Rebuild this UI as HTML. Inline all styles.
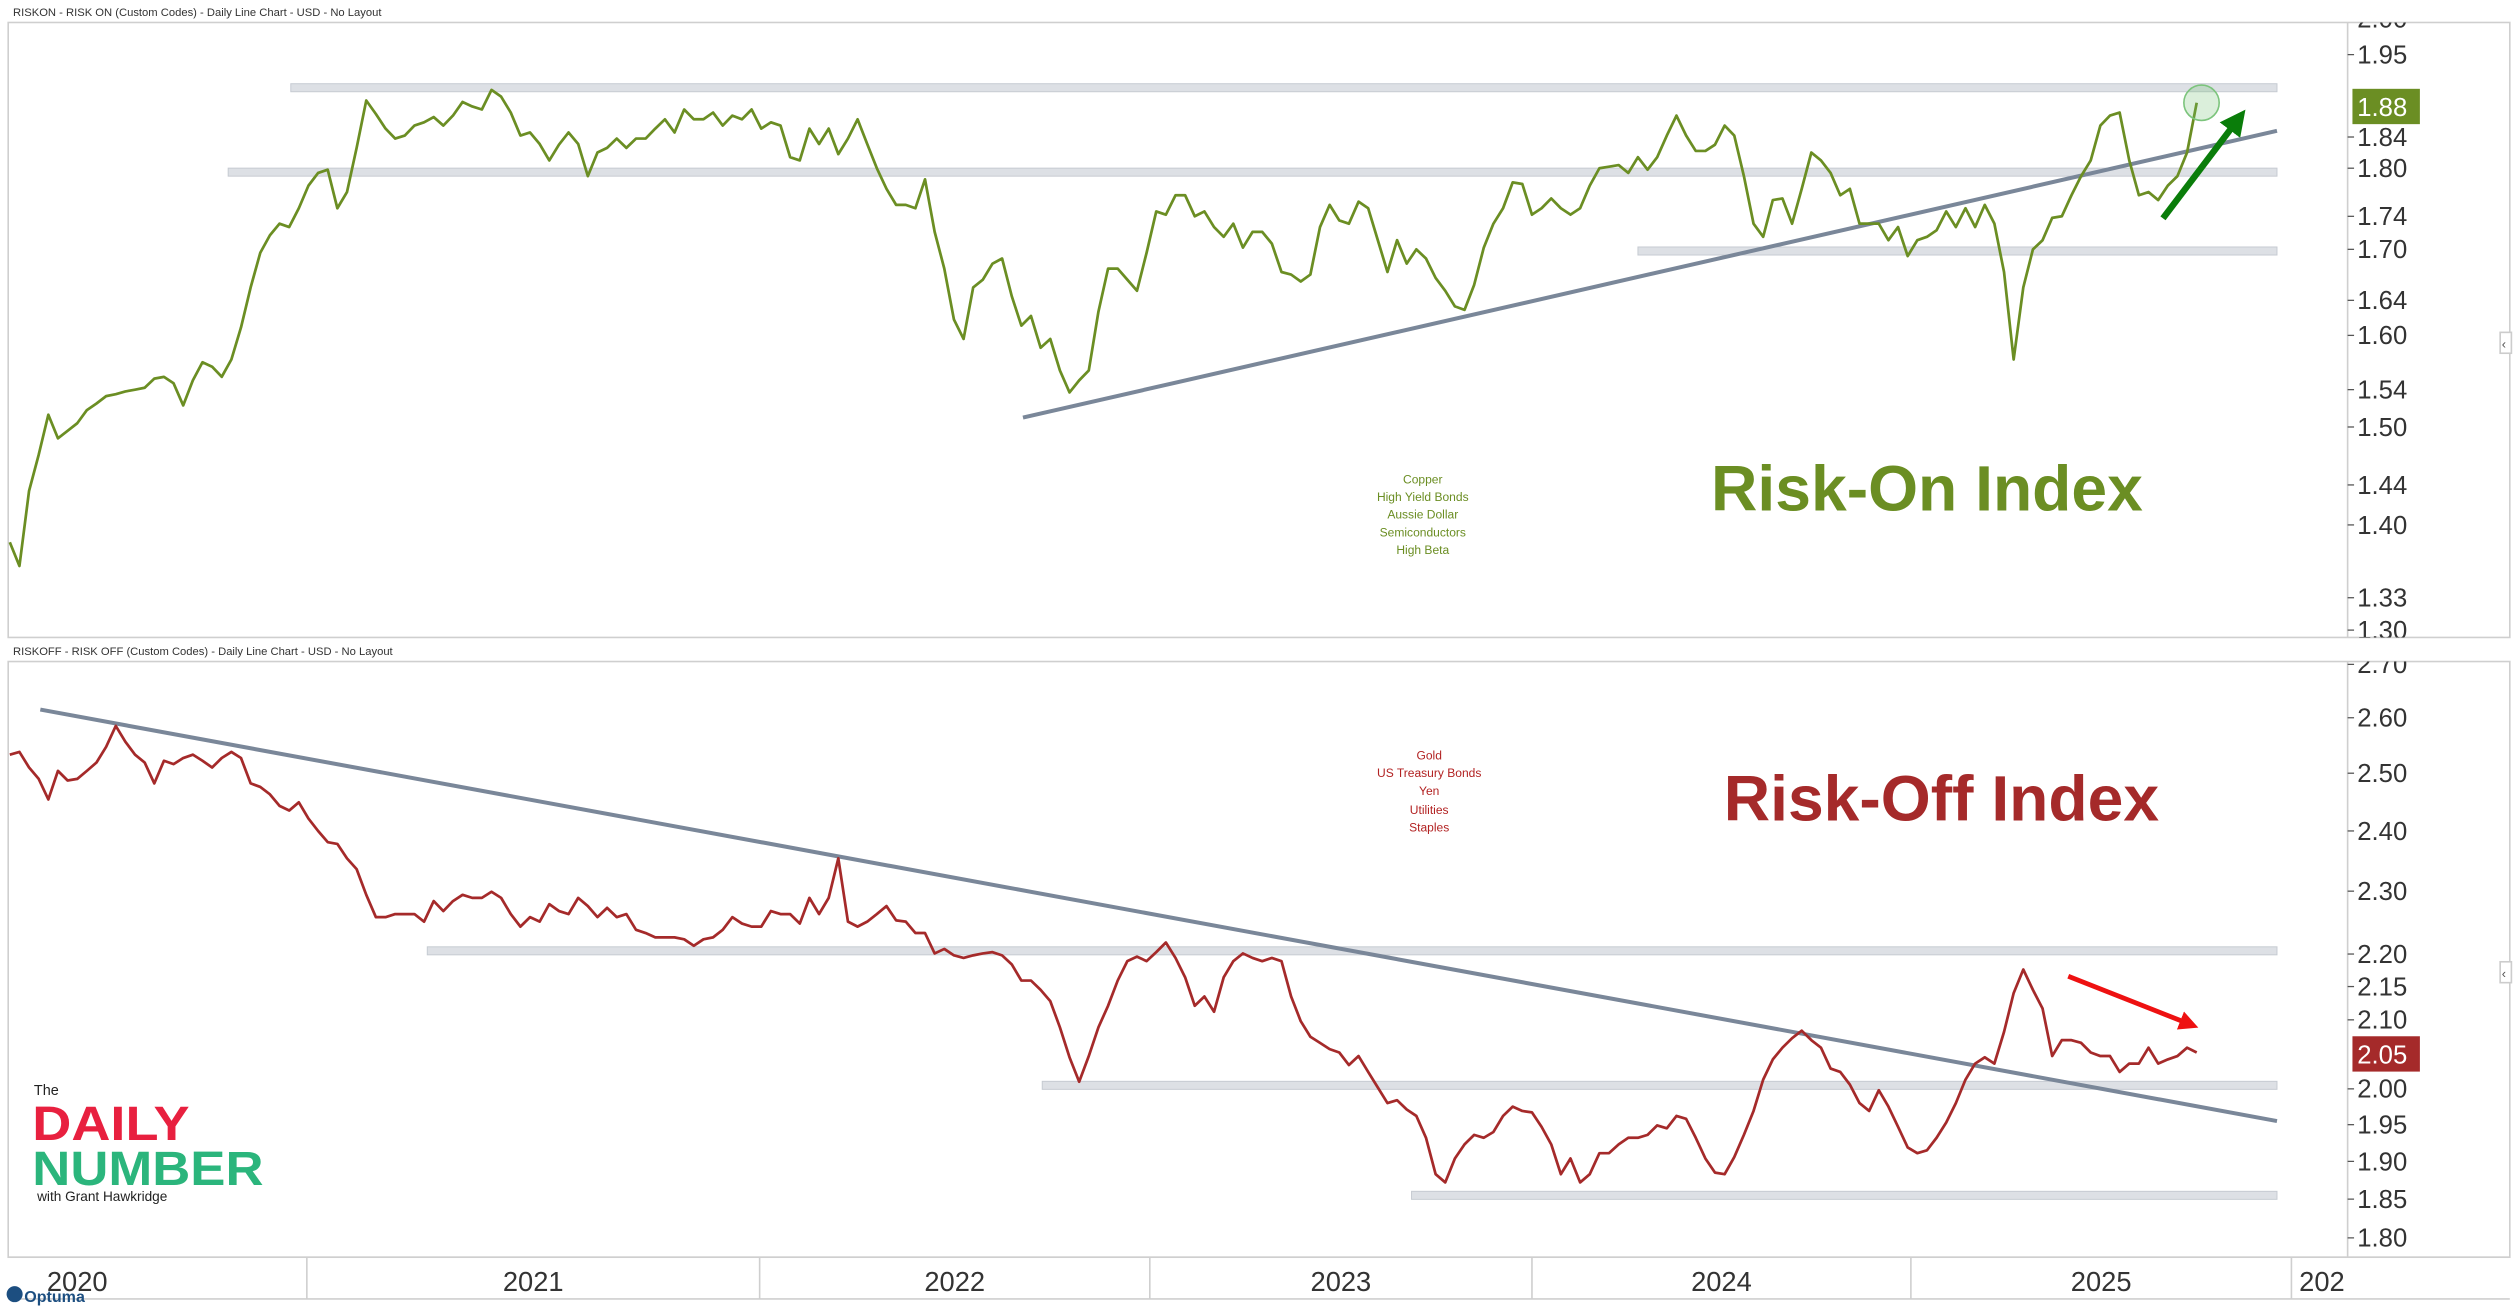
<!DOCTYPE html>
<html><head><meta charset="utf-8">
<style>
html,body{margin:0;padding:0;background:#fff;}
svg{display:block;}
text{font-family:"Liberation Sans",sans-serif;}
</style></head>
<body>
<svg id="chart" width="2518" height="1307" viewBox="0 0 1568 814" xmlns="http://www.w3.org/2000/svg">
  <rect x="0" y="0" width="1568" height="814" fill="#fff"/>
  <defs>
    <clipPath id="clipTop"><rect x="5" y="14" width="1558" height="383"/></clipPath>
    <clipPath id="clipBot"><rect x="5" y="412" width="1558" height="371"/></clipPath>
    <clipPath id="clipAx"><rect x="5" y="783" width="1457" height="26"/></clipPath>
    <marker id="ahG" markerWidth="4" markerHeight="4" refX="2.2" refY="2" orient="auto" markerUnits="strokeWidth"><path d="M0,0 L4,2 L0,4 z" fill="#0a7d0a"/></marker>
    <marker id="ahR" markerWidth="4" markerHeight="4" refX="2.2" refY="2" orient="auto" markerUnits="strokeWidth"><path d="M0,0 L4,2 L0,4 z" fill="#ee1111"/></marker>
  </defs>

  <text x="8" y="10" font-size="7" fill="#333">RISKON - RISK ON (Custom Codes) - Daily Line Chart - USD - No Layout</text>
  <rect x="5" y="14" width="1558" height="383" fill="none" stroke="#cfcfcf" stroke-width="1"/>
  <line x1="1462" y1="14" x2="1462" y2="397" stroke="#cfcfcf" stroke-width="1"/>
  <g id="topAxis" clip-path="url(#clipTop)"></g>
  <g id="topPlot" clip-path="url(#clipTop)"></g>

  <text x="8" y="408" font-size="7" fill="#333">RISKOFF - RISK OFF (Custom Codes) - Daily Line Chart - USD - No Layout</text>
  <rect x="5" y="412" width="1558" height="371" fill="none" stroke="#cfcfcf" stroke-width="1"/>
  <line x1="1462" y1="412" x2="1462" y2="783" stroke="#cfcfcf" stroke-width="1"/>
  <g id="botAxis" clip-path="url(#clipBot)"></g>
  <g id="botPlot" clip-path="url(#clipBot)"></g>

  <line x1="5" y1="783" x2="1563" y2="783" stroke="#cfcfcf"/>
  <line x1="5" y1="809" x2="1563" y2="809" stroke="#cfcfcf"/>
  <g id="xAxis" clip-path="url(#clipAx)"></g>

  <text x="1200" y="318" font-size="40" font-weight="bold" fill="#6b8e23" text-anchor="middle">Risk-On Index</text>
  <g font-size="7.5" fill="#6b8e23" text-anchor="middle">
    <text x="886" y="301">Copper</text>
    <text x="886" y="312">High Yield Bonds</text>
    <text x="886" y="323">Aussie Dollar</text>
    <text x="886" y="334">Semiconductors</text>
    <text x="886" y="345">High Beta</text>
  </g>
  <text x="1209" y="511" font-size="40" font-weight="bold" fill="#a52a2a" text-anchor="middle">Risk-Off Index</text>
  <g font-size="7.5" fill="#b22222" text-anchor="middle">
    <text x="890" y="473">Gold</text>
    <text x="890" y="484">US Treasury Bonds</text>
    <text x="890" y="495">Yen</text>
    <text x="890" y="507">Utilities</text>
    <text x="890" y="518">Staples</text>
  </g>

  <g>
    <text x="21" y="682" font-size="9" fill="#222">The</text>
    <text x="20" y="710" font-size="30" font-weight="bold" fill="#e8203f" textLength="98" lengthAdjust="spacingAndGlyphs">DAILY</text>
    <text x="20" y="738" font-size="30" font-weight="bold" fill="#2bb57c" textLength="144" lengthAdjust="spacingAndGlyphs">NUMBER</text>
    <text x="23" y="748" font-size="8.5" fill="#222">with Grant Hawkridge</text>
  </g>
  <g>
    <circle cx="9" cy="806" r="5" fill="#1c4e80"/>
    <text x="15" y="811" font-size="10" font-weight="bold" fill="#1c4e80">Optuma</text>
  </g>
  <g><rect x="1557" y="207" width="7" height="13" fill="#fff" stroke="#ccc"/><text x="1558" y="217" font-size="8" fill="#555">‹</text></g>
  <g><rect x="1557" y="599" width="7" height="13" fill="#fff" stroke="#ccc"/><text x="1558" y="609" font-size="8" fill="#555">‹</text></g>
</svg>
<script>
const onTicks = [2.00, 1.95, 1.84, 1.80, 1.74, 1.70, 1.64, 1.60, 1.54, 1.50, 1.44, 1.40, 1.33, 1.30];
const offTicks = [2.70, 2.60, 2.50, 2.40, 2.30, 2.20, 2.15, 2.10, 2.00, 1.95, 1.90, 1.85, 1.80];
const yearLabels = ["2020", "2021", "2022", "2023", "2024", "2025", "202"];
const riskOn = [1.383,1.360,1.434,1.471,1.513,1.488,1.496,1.504,1.518,1.525,1.533,1.535,1.538,1.540,1.542,1.552,1.554,1.547,1.523,1.550,
1.570,1.565,1.554,1.573,1.609,1.655,1.696,1.717,1.731,1.727,1.750,1.778,1.794,1.798,1.750,1.770,1.826,1.888,1.870,1.851,
1.838,1.842,1.855,1.859,1.866,1.855,1.868,1.886,1.880,1.876,1.902,1.893,1.872,1.842,1.846,1.831,1.810,1.830,1.846,1.831,
1.790,1.820,1.826,1.838,1.826,1.838,1.838,1.851,1.863,1.846,1.876,1.863,1.863,1.872,1.855,1.868,1.863,1.876,1.851,1.859,
1.855,1.814,1.810,1.851,1.831,1.851,1.818,1.838,1.863,1.831,1.800,1.774,1.754,1.754,1.750,1.786,1.721,1.677,1.618,1.596,
1.655,1.664,1.683,1.689,1.645,1.611,1.622,1.586,1.596,1.561,1.537,1.550,1.561,1.627,1.677,1.677,1.664,1.651,1.696,1.746,
1.742,1.766,1.766,1.740,1.746,1.727,1.715,1.731,1.702,1.721,1.721,1.707,1.673,1.670,1.662,1.670,1.727,1.754,1.735,1.731,
1.758,1.750,1.711,1.673,1.711,1.683,1.700,1.689,1.666,1.651,1.633,1.629,1.658,1.702,1.731,1.750,1.782,1.780,1.742,1.750,
1.762,1.750,1.742,1.750,1.778,1.800,1.802,1.804,1.794,1.814,1.798,1.814,1.842,1.868,1.842,1.822,1.822,1.830,1.855,1.842,
1.790,1.731,1.715,1.760,1.762,1.731,1.774,1.820,1.810,1.794,1.766,1.774,1.731,1.731,1.731,1.711,1.727,1.692,1.711,1.715,
1.723,1.746,1.727,1.750,1.727,1.754,1.731,1.673,1.573,1.655,1.700,1.711,1.738,1.740,1.766,1.790,1.810,1.855,1.868,1.872,
1.810,1.766,1.770,1.760,1.778,1.790,1.820,1.885];
const riskOff = [2.533,2.538,2.510,2.490,2.454,2.504,2.487,2.490,2.504,2.519,2.547,2.585,2.556,2.533,2.519,2.482,2.522,2.516,2.527,2.533,
2.522,2.510,2.527,2.538,2.527,2.482,2.476,2.463,2.443,2.435,2.449,2.421,2.400,2.381,2.378,2.354,2.336,2.294,2.258,2.258,
2.263,2.263,2.263,2.251,2.284,2.268,2.284,2.294,2.289,2.289,2.299,2.289,2.263,2.243,2.258,2.251,2.279,2.268,2.263,2.289,
2.276,2.258,2.273,2.258,2.263,2.238,2.233,2.226,2.226,2.226,2.223,2.213,2.223,2.226,2.238,2.258,2.248,2.243,2.243,2.268,
2.263,2.263,2.248,2.289,2.263,2.289,2.354,2.251,2.243,2.251,2.263,2.276,2.253,2.251,2.233,2.233,2.201,2.208,2.198,2.194,
2.198,2.201,2.203,2.198,2.184,2.159,2.159,2.145,2.128,2.089,2.045,2.010,2.047,2.089,2.121,2.159,2.189,2.196,2.189,2.203,
2.218,2.194,2.164,2.121,2.135,2.112,2.164,2.189,2.201,2.194,2.189,2.194,2.189,2.135,2.098,2.075,2.066,2.057,2.052,2.034,
2.047,2.024,2.002,1.980,1.984,1.971,1.962,1.932,1.883,1.872,1.904,1.923,1.936,1.932,1.940,1.962,1.975,1.969,1.967,1.947,
1.923,1.883,1.904,1.872,1.883,1.911,1.911,1.923,1.932,1.932,1.936,1.949,1.945,1.962,1.958,1.932,1.904,1.885,1.883,1.906,
1.936,1.969,2.013,2.042,2.059,2.073,2.084,2.070,2.059,2.029,2.024,2.006,1.980,1.969,1.998,1.975,1.947,1.919,1.911,1.915,
1.932,1.953,1.980,2.013,2.036,2.045,2.036,2.082,2.140,2.176,2.145,2.117,2.047,2.070,2.070,2.066,2.052,2.047,2.047,2.024,
2.036,2.036,2.059,2.036,2.042,2.047,2.059,2.052];
const onLast = 1.88;
const offLast = 2.05;
const onZones = [1.905, 1.795, 1.698];
const offZones = [2.205, 2.005, 1.855];
const onTrend = [1.51, 1.848];
const offTrend = [2.615, 1.955];

const NS = "http://www.w3.org/2000/svg";
const X0 = 6, X1 = 1368;
function xIdx(i, n) { return X0 + (X1 - X0) * i / (n - 1); }
function yOn(v) { return 34 + (Math.log(1.95) - Math.log(v)) * 884; }
function yOff(v) { return 447 + (Math.log(2.6) - Math.log(v)) * 881; }
function mk(tag, attrs, parent) {
  const e = document.createElementNS(NS, tag);
  for (const k in attrs) e.setAttribute(k, attrs[k]);
  parent.appendChild(e);
  return e;
}
function drawAxis(g, ticks, yf) {
  ticks.forEach(t => {
    const y = yf(t);
    const tk = mk("line", {x1: 1462, x2: 1466, y1: y, y2: y, stroke: "#555", "stroke-width": 0.8}, g);
    
    
    const tx = mk("text", {x: 1468, y: y + 5.5, "font-size": 16, fill: "#333"}, g);
    tx.textContent = t.toFixed(2);
    
    
  });
}
function drawZones(g, levels, yf, starts) {
  levels.forEach((v, i) => {
    const y = yf(v);
    const r = mk("rect", {x: starts[i], y: y - 2.5, width: 1418 - starts[i], height: 5, fill: "#dde0e5", stroke: "#c5cad1", "stroke-width": 0.6}, g);
    
    
  });
}
function drawSeries(g, vals, yf, color, name) {
  let d = "";
  vals.forEach((v, i) => { d += (i ? "L" : "M") + xIdx(i, vals.length).toFixed(1) + "," + yf(v).toFixed(1); });
  const p = mk("path", {d: d, fill: "none", stroke: color, "stroke-width": 1.7, "stroke-linejoin": "round"}, g);
  
  
}
function drawLabel(g, v, yf, color, name) {
  const y = yf(v);
  const r = mk("rect", {x: 1465, y: y - 11, width: 42, height: 22, fill: color}, g);
  
  
  const t = mk("text", {x: 1468, y: y + 6, "font-size": 16, fill: "#fff"}, g);
  t.textContent = v.toFixed(2);
  
  
}

const topAxis = document.getElementById("topAxis");
const topPlot = document.getElementById("topPlot");
const botAxis = document.getElementById("botAxis");
const botPlot = document.getElementById("botPlot");

drawAxis(topAxis, onTicks, yOn);
drawAxis(botAxis, offTicks, yOff);
drawZones(topPlot, onZones, yOn, [181, 142, 1020]);
drawZones(botPlot, offZones, yOff, [266, 649, 879]);

const tl1 = mk("line", {x1: 637, y1: yOn(onTrend[0]), x2: 1418, y2: yOn(onTrend[1]), stroke: "#7a8799", "stroke-width": 2.5}, topPlot);


const tl2 = mk("line", {x1: 25, y1: yOff(offTrend[0]), x2: 1418, y2: yOff(offTrend[1]), stroke: "#7a8799", "stroke-width": 2.5}, botPlot);



drawSeries(topPlot, riskOn, yOn, "#6b8e23", "risk-on-line");
drawSeries(botPlot, riskOff, yOff, "#a52a2a", "risk-off-line");

const circ = mk("ellipse", {cx: 1371, cy: 64, rx: 11, ry: 11, fill: "rgba(110,190,110,0.25)", stroke: "#7cc47c", "stroke-width": 1}, topPlot);


const ga = mk("line", {x1: 1347, y1: 136, x2: 1394, y2: 74, stroke: "#0a7d0a", "stroke-width": 4, "marker-end": "url(#ahG)"}, topPlot);


const ra = mk("line", {x1: 1288, y1: 608, x2: 1364, y2: 638, stroke: "#ee1111", "stroke-width": 3, "marker-end": "url(#ahR)"}, botPlot);



drawLabel(topAxis, onLast, yOn, "#6b8e23", "risk-on-last-value");
drawLabel(botAxis, offLast, yOff, "#a52a2a", "risk-off-last-value");

const xAxis = document.getElementById("xAxis");
const bounds = [-95, 191, 473, 716, 954, 1190, 1427, 1705];
yearLabels.forEach((lab, i) => {
  if (i > 0) {
    const dv = mk("line", {x1: bounds[i], x2: bounds[i], y1: 783, y2: 809, stroke: "#cfcfcf"}, xAxis);
    
    
  }
  const cx = i === 0 ? 48 : (i === yearLabels.length - 1 ? 1446 : (bounds[i] + bounds[i + 1]) / 2);
  const t = mk("text", {x: cx, y: 804, "font-size": 17, fill: "#333", "text-anchor": "middle"}, xAxis);
  t.textContent = lab;
  
  
});
</script>
</body></html>
